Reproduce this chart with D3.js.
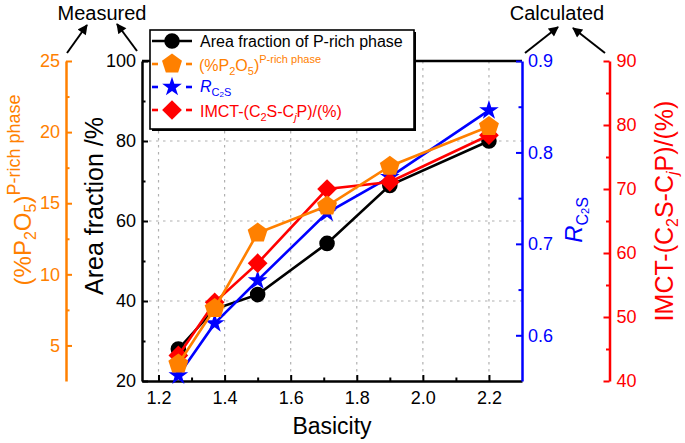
<!DOCTYPE html>
<html><head><meta charset="utf-8">
<script src="https://cdn.jsdelivr.net/npm/d3@7"></script>
<style>body{margin:0;background:#fff} svg{display:block} text{font-family:"Liberation Sans",Arial,sans-serif}</style>
</head><body><svg id="c" width="685" height="443"></svg>
<script>
const basicity = [1.26, 1.37, 1.5, 1.71, 1.9, 2.2];
const areaFraction = [28, 38, 41.6, 54.4, 68.9, 80];
const p2o5 = [3.7, 7.6, 12.9, 14.8, 17.6, 20.4];
const rc2s = [0.556, 0.613, 0.660, 0.734, 0.773, 0.846];
const imct = [44, 52.3, 58.4, 70, 71.1, 78.4];
const xTicks = [1.2, 1.4, 1.6, 1.8, 2.0, 2.2];
const xMinor = [1.3, 1.5, 1.7, 1.9, 2.1];
const areaTicks = [20, 40, 60, 80, 100];
const areaMinor = [30, 50, 70, 90];
const p2o5Ticks = [5, 10, 15, 20, 25];
const p2o5Minor = [7.5, 12.5, 17.5, 22.5];
const rTicks = [0.6, 0.7, 0.8, 0.9];
const rMinor = [0.65, 0.75, 0.85];
const imctTicks = [40, 50, 60, 70, 80, 90];
const imctMinor = [45, 55, 65, 75, 85];

const C = {black:"#000000", orange:"#FF8000", blue:"#0000FF", red:"#FF0000"};
const L = 142, R = 522, T = 61, B = 381;
const svg = d3.select("#c");
const x = d3.scaleLinear().domain([1.15, 2.3]).range([L, R]);
const yA = d3.scaleLinear().domain([20, 100]).range([B, T]);
const yP = d3.scaleLinear().domain([2.5, 25]).range([B, T]);
const yR = d3.scaleLinear().domain([0.55, 0.9]).range([B, T]);
const yI = d3.scaleLinear().domain([40, 90]).range([B, T]);

// grid
const grid = svg.append("g").attr("stroke", "#b0b0b0").attr("stroke-width", 1.2).attr("stroke-dasharray", "2.5,4.5");
grid.selectAll("line.v").data(xTicks).join("line").attr("x1", d => x(d)).attr("x2", d => x(d)).attr("y1", T).attr("y2", B);
grid.selectAll("line.h").data([40, 60, 80]).join("line").attr("x1", L).attr("x2", R).attr("y1", d => yA(d)).attr("y2", d => yA(d));

function styleAxis(g, color, fs) {
  g.select(".domain").attr("stroke", color).attr("stroke-width", 2.5);
  g.selectAll(".tick line").attr("stroke", color).attr("stroke-width", 2);
  g.selectAll(".tick text").attr("fill", color).style("font-size", fs + "px").style("font-family", '"Liberation Sans",Arial,sans-serif');
}
function addAxis(gen, scale, major, minor, fmt, tx, ty, color, pad) {
  const g = svg.append("g").attr("transform", `translate(${tx},${ty})`)
    .call(gen(scale).tickValues(major).tickFormat(fmt).tickSizeInner(-6).tickSizeOuter(0).tickPadding(pad));
  styleAxis(g, color, 18);
  const m = svg.append("g").attr("transform", `translate(${tx},${ty})`)
    .call(gen(scale).tickValues(minor).tickFormat("").tickSizeInner(-3.5).tickSizeOuter(0));
  styleAxis(m, color, 18);
  m.select(".domain").remove();
  return g;
}
// top border
svg.append("line").attr("x1", L).attr("x2", R).attr("y1", T).attr("y2", T).attr("stroke", "#000").attr("stroke-width", 2.5);
addAxis(d3.axisBottom, x, xTicks, xMinor, d3.format(".1f"), 0, B, C.black, 10);
addAxis(d3.axisLeft, yA, areaTicks, areaMinor, d3.format("d"), L, 0, C.black, 6);
addAxis(d3.axisLeft, yP, p2o5Ticks, p2o5Minor, d3.format("d"), 66, 0, C.orange, 6);
addAxis(d3.axisRight, yR, rTicks, rMinor, d3.format(".1f"), R, 0, C.blue, 6);
addAxis(d3.axisRight, yI, imctTicks, imctMinor, d3.format("d"), 609.5, 0, C.red, 7);

// symbols
function pentagon(r) {
  const pts = d3.range(5).map(i => { const a = -Math.PI/2 + i*2*Math.PI/5; return [r*Math.cos(a), r*Math.sin(a)]; });
  return "M" + pts.map(p => p.join(",")).join("L") + "Z";
}
const symCircle = d3.symbol().type(d3.symbolCircle).size(190)();
const symStar = d3.symbol().type(d3.symbolStar).size(120)();
const symDiamond = d3.symbol().type(d3.symbolSquare).size(195)();
const symPent = pentagon(10.5);

const series = [
  {vals: areaFraction, y: yA, color: C.black, path: symCircle, rot: 0},
  {vals: rc2s, y: yR, color: C.blue, path: symStar, rot: 0},
  {vals: imct, y: yI, color: C.red, path: symDiamond, rot: 45},
  {vals: p2o5, y: yP, color: C.orange, path: symPent, rot: 0},
];
series.forEach(s => {
  const pts = basicity.map((b, i) => [x(b), s.y(s.vals[i])]);
  svg.append("path").attr("d", d3.line()(pts)).attr("fill", "none").attr("stroke", s.color).attr("stroke-width", 2.6);
  svg.append("g").selectAll("path").data(pts).join("path")
    .attr("d", s.path).attr("fill", s.color)
    .attr("transform", d => `translate(${d[0]},${d[1]}) rotate(${s.rot})`);
});

// rich text helper
function rich(sel, parts, base) {
  let cur = 0;
  parts.forEach(p => {
    const off = p.off || 0;
    sel.append("tspan").text(p.t).attr("dy", off - cur)
      .style("font-size", (p.size || base) + "px")
      .style("font-style", p.it ? "italic" : null);
    cur = off;
  });
}

// legend
const lg = svg.append("g");
lg.append("rect").attr("x", 152).attr("y", 32).attr("width", 264).attr("height", 99).attr("fill", "#000");
lg.append("rect").attr("x", 150).attr("y", 30).attr("width", 264).attr("height", 99).attr("fill", "#fff").attr("stroke", "#000").attr("stroke-width", 1.6);
const legRows = [
  {s: series[0], y: 41, gap: false},
  {s: series[3], y: 64, gap: true},
  {s: series[1], y: 87, gap: true},
  {s: series[2], y: 110, gap: true},
];
legRows.forEach(r => {
  if (r.gap) {
    lg.append("line").attr("x1", 152).attr("x2", 158).attr("y1", r.y).attr("y2", r.y).attr("stroke", r.s.color).attr("stroke-width", 2.6);
    lg.append("line").attr("x1", 186).attr("x2", 192).attr("y1", r.y).attr("y2", r.y).attr("stroke", r.s.color).attr("stroke-width", 2.6);
  } else {
    lg.append("line").attr("x1", 152).attr("x2", 192).attr("y1", r.y).attr("y2", r.y).attr("stroke", r.s.color).attr("stroke-width", 2.6);
  }
  lg.append("path").attr("d", r.s.path).attr("fill", r.s.color).attr("transform", `translate(172,${r.y}) rotate(${r.s.rot})`);
});
lg.append("text").attr("x", 200).attr("y", 47).attr("fill", C.black).style("font-size", "16px").text("Area fraction of P-rich phase");
rich(lg.append("text").attr("x", 199).attr("y", 71).attr("fill", C.orange),
  [{t:"(%P"},{t:"2",size:11,off:4},{t:"O"},{t:"5",size:11,off:4},{t:")"},{t:"P-rich phase",size:11,off:-8}], 16);
rich(lg.append("text").attr("x", 200).attr("y", 92).attr("fill", C.blue),
  [{t:"R",it:true},{t:"C",size:11,off:4},{t:"2",size:8,off:5},{t:"S",size:11,off:4}], 16);
rich(lg.append("text").attr("x", 200).attr("y", 117).attr("fill", C.red),
  [{t:"IMCT-(C"},{t:"2",size:11,off:4},{t:"S-C"},{t:"j",size:11,off:4,it:true},{t:"P)/(%)"}], 16);

// axis titles
svg.append("text").attr("x", 332).attr("y", 434).attr("text-anchor", "middle").style("font-size", "23px").text("Basicity");
svg.append("text").attr("transform", "translate(103,206) rotate(-90)").attr("text-anchor", "middle").style("font-size", "25px").text("Area fraction /%");
rich(svg.append("text").attr("transform", "translate(31,190) rotate(-90)").attr("text-anchor", "middle").attr("fill", C.orange),
  [{t:"(%P"},{t:"2",size:16,off:5},{t:"O"},{t:"5",size:16,off:5},{t:")"},{t:"P-rich phase",size:18,off:-11}], 24);
rich(svg.append("text").attr("transform", "translate(582,220) rotate(-90)").attr("text-anchor", "middle").attr("fill", C.blue),
  [{t:"R",it:true},{t:"C",size:16,off:6},{t:"2",size:11,off:7},{t:"S",size:16,off:6}], 24);
rich(svg.append("text").attr("transform", "translate(673,211) rotate(-90)").attr("text-anchor", "middle").attr("fill", C.red),
  [{t:"IMCT-(C"},{t:"2",size:16,off:5},{t:"S-C"},{t:"j",size:16,off:5,it:true},{t:"P)/(%)"}], 25);

// annotations
const defs = svg.append("defs");
defs.append("marker").attr("id", "ah").attr("viewBox", "0 0 10 10").attr("refX", 9).attr("refY", 5)
  .attr("markerWidth", 11).attr("markerHeight", 10).attr("markerUnits", "userSpaceOnUse").attr("orient", "auto")
  .append("path").attr("d", "M0,0L10,5L0,10Z").attr("fill", "#000");
svg.append("text").attr("x", 102).attr("y", 20).attr("text-anchor", "middle").style("font-size", "20px").text("Measured");
svg.append("text").attr("x", 557).attr("y", 20).attr("text-anchor", "middle").style("font-size", "20px").text("Calculated");
const arrows = [[67,53,87,25],[137,51,117,24],[525,53,558,27],[605,53,573,28]];
svg.selectAll("line.arr").data(arrows).join("line").attr("class", "arr")
  .attr("x1", d => d[0]).attr("y1", d => d[1]).attr("x2", d => d[2]).attr("y2", d => d[3])
  .attr("stroke", "#000").attr("stroke-width", 2).attr("marker-end", "url(#ah)");
</script></body></html>
